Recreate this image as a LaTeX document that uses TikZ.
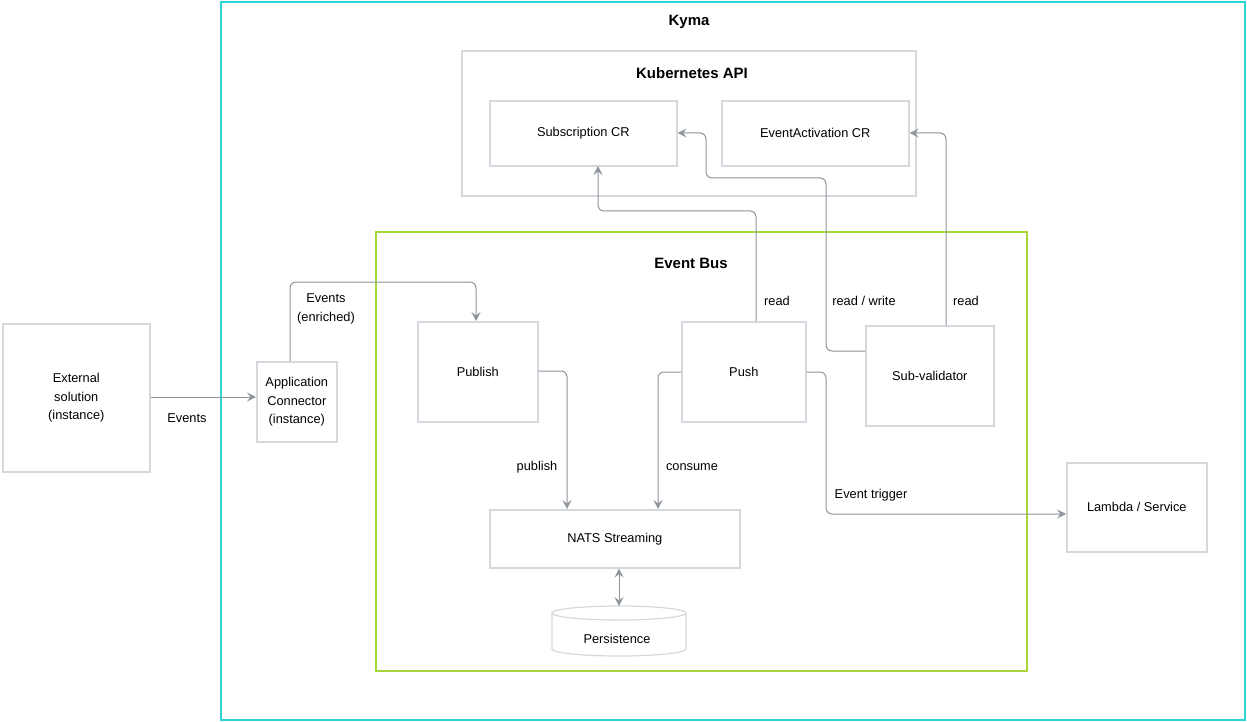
\documentclass[tikz,border=0pt]{standalone}
\usepackage{fontspec}
\setmainfont{Liberation Sans}
\usetikzlibrary{arrows.meta,shapes.geometric}
\definecolor{kcyan}{HTML}{2ED3D3}
\definecolor{kgreen}{HTML}{A8D63A}
\definecolor{boxline}{HTML}{D5D8DC}
\definecolor{conn}{HTML}{8E949B}
\tikzset{
  every node/.style={font=\fontsize{12.8}{18.5}\selectfont, text=black},
  card/.style={draw=boxline, line width=1.6pt, fill=white, anchor=north west, inner sep=0pt, align=center},
  frame/.style={line width=2pt},
  title/.style={font=\fontsize{15}{18}\selectfont\bfseries},
  lbl/.style={align=center},
  mytip/.tip={Stealth[length=9pt,width=9pt,inset=3.5pt]},
  link/.style={draw=conn, line width=1pt, rounded corners=6pt, -mytip},
}
\begin{document}
\begin{tikzpicture}[x=1pt,y=-1pt]
\useasboundingbox (0,0) rectangle (1247,722);
% frames
\draw[frame, draw=kcyan] (221,2) rectangle (1245,720);
\node[title] (kyma) at (689,22) {Kyma};
\draw[draw=boxline, line width=2pt] (462,51) rectangle (916,196);
\node[title] (k8s) at (692,73) {Kubernetes API};
\draw[frame, draw=kgreen] (376,232) rectangle (1027,671);
\node[title] (ebus) at (691,263) {Event Bus};
% boxes
\node[card, minimum width=187pt, minimum height=65pt] (sub) at (489,100) {Subscription CR};
\node[card, minimum width=187pt, minimum height=65pt] (ea) at (721,100) {EventActivation CR};
\node[card, minimum width=120pt, minimum height=100pt] (pub) at (417,321) {Publish};
\node[card, minimum width=124pt, minimum height=100pt] (push) at (681,321) {Push};
\node[card, minimum width=128pt, minimum height=100pt] (sv) at (865,325) {Sub-validator};
\node[card, minimum width=250pt, minimum height=58pt] (nats) at (489,509) {NATS Streaming};
\node[card, minimum width=147pt, minimum height=148pt] (ext) at (2,323) {External\\solution\\(instance)};
\node[card, minimum width=80pt, minimum height=80pt] (app) at (256,361) {Application\\Connector\\(instance)};
\node[card, minimum width=140pt, minimum height=89pt] (lam) at (1066,462) {Lambda / Service};
% persistence cylinder
\draw[draw=boxline, line width=1.2pt, fill=white]
  (552,613) arc[start angle=180, end angle=360, x radius=67pt, y radius=7pt]
  -- (686,649) arc[start angle=0, end angle=-180, x radius=67pt, y radius=7pt] -- cycle;
\draw[draw=boxline, line width=1.2pt] (552,613) arc[start angle=180, end angle=0, x radius=67pt, y radius=7pt];
\coordinate (perstop) at (619,606);
\node (pers) at (617,639) {Persistence};
% connectors
\draw[link] (ext.east |- 0,397) -- (app.west |- 0,397);
\node[lbl] (l1) at (187,418) {Events};
\draw[link] (290,361) -- (290,282) -- (476,282) -- (476,321);
\node[lbl] (l2) at (326,309) {Events\\(enriched)};
\draw[link] (pub.east |- 0,371) -- (567,371) -- (567,509);
\node[lbl] (l3) at (537,467) {publish};
\draw[link] (push.west |- 0,372) -- (658,372) -- (658,509);
\node[lbl] (l4) at (692,467) {consume};
\draw[link] (push.east |- 0,372) -- (826,372) -- (826,514) -- (lam.west |- 0,514);
\node[lbl] (l5) at (871,495) {Event trigger};
\draw[link] (756,321) -- (756,211) -- (598,211) -- (598,166);
\node[lbl] (l6) at (777,301) {read};
\draw[link] (sv.west |- 0,351) -- (826,351) -- (826,178) -- (706,178) -- (706,133) -- (sub.east |- 0,133);
\node[lbl] (l7) at (864,301) {read / write};
\draw[link] (946,325) -- (946,133) -- (ea.east |- 0,133);
\node[lbl] (l8) at (966,301) {read};
\draw[link, mytip-mytip] (nats.south -| perstop) -- (perstop);
\end{tikzpicture}
\end{document}
